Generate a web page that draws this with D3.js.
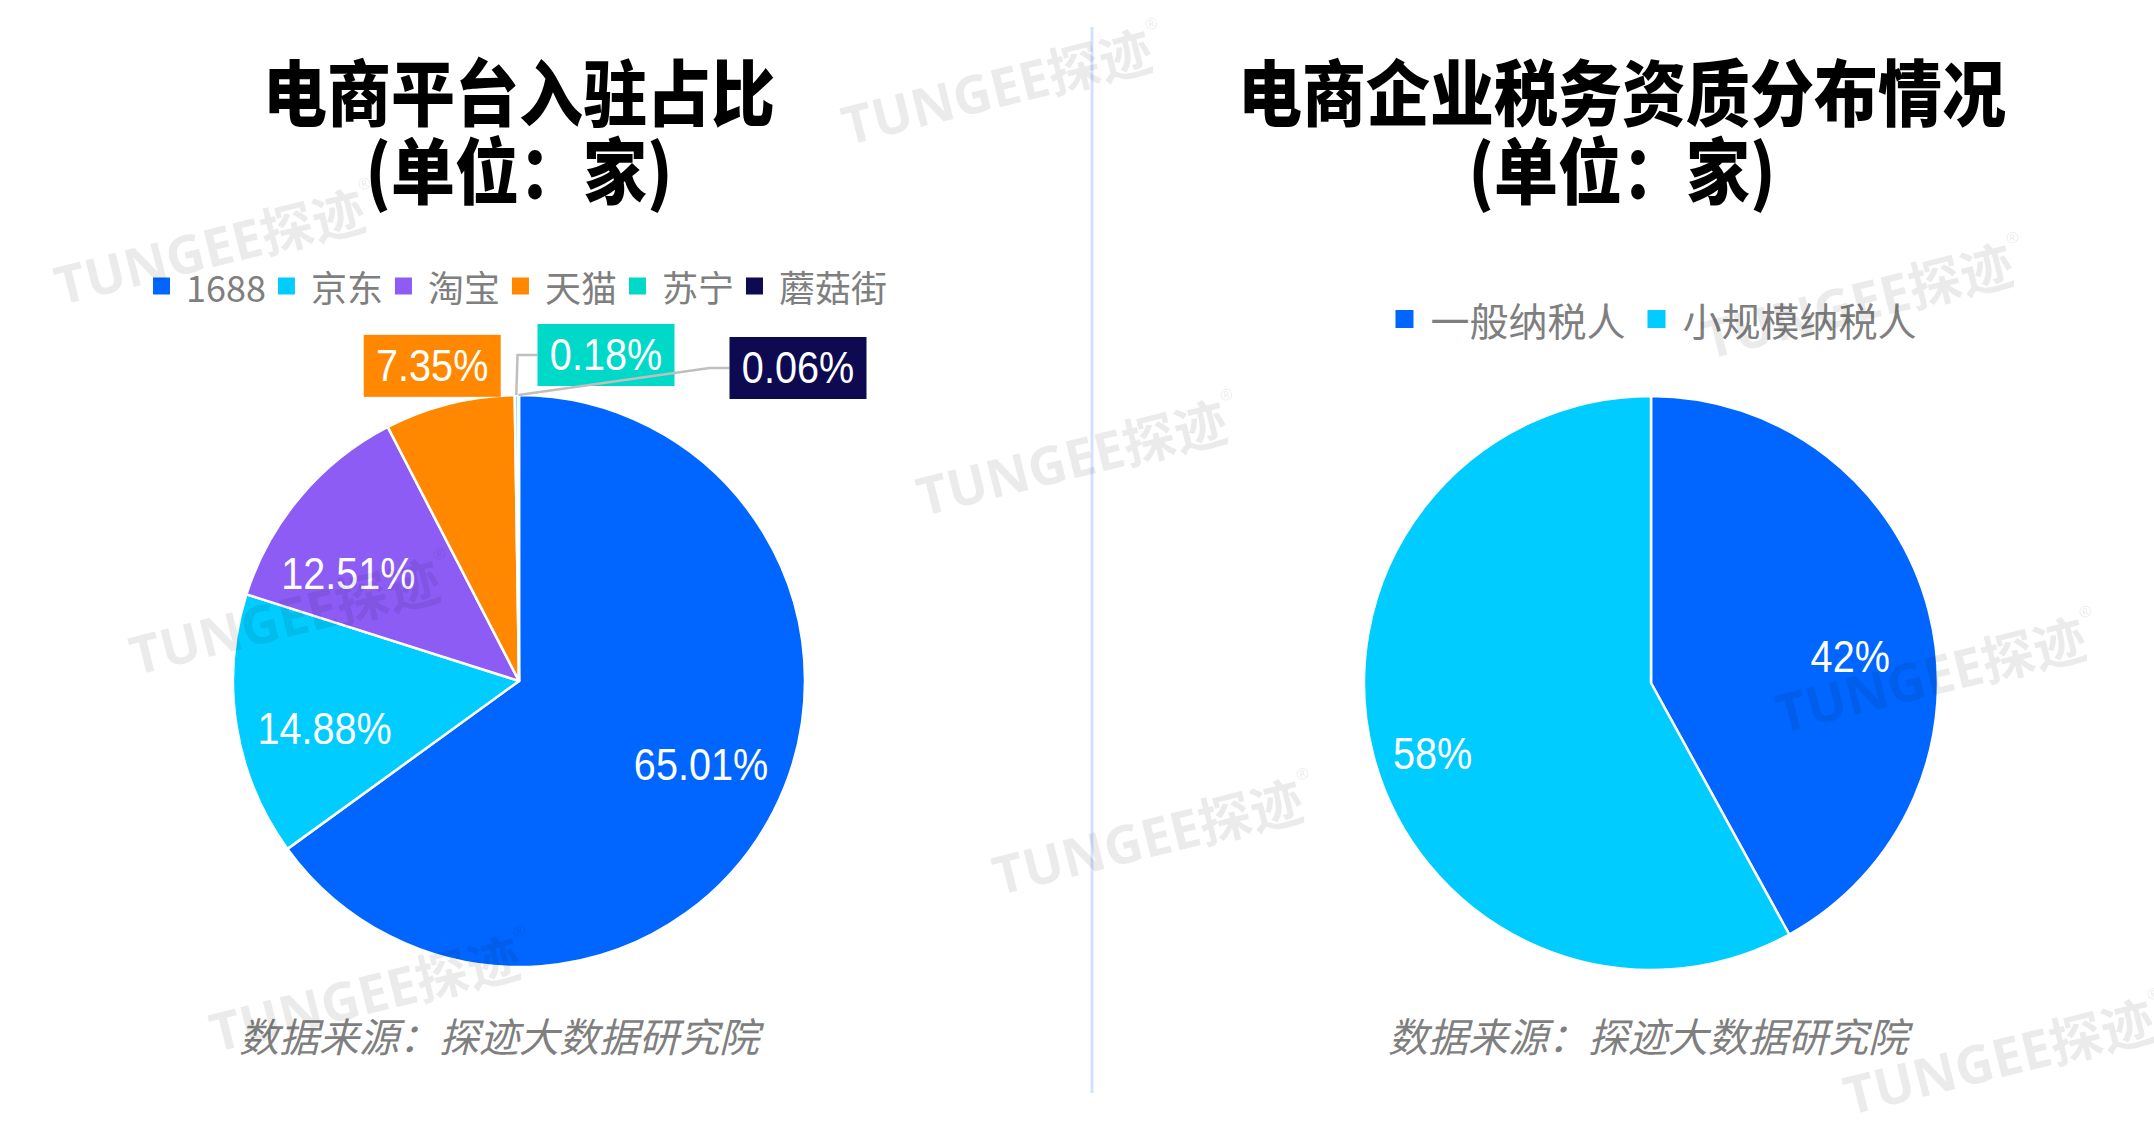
<!DOCTYPE html>
<html><head><meta charset="utf-8">
<script src="https://cdn.jsdelivr.net/npm/d3@7"></script>
<style>body{margin:0;background:#fff;} svg{display:block;}</style>
</head><body>
<svg id="chart" width="2154" height="1133"></svg>
<script>
// ---------- data ----------
const platformCategories = ["1688", "京东", "淘宝", "天猫", "苏宁", "蘑菇街"];
const platformValues = [65.01, 14.88, 12.51, 7.35, 0.18, 0.06];
const platformColors = ["#0066FF", "#00CCFF", "#8C5CF5", "#FF8800", "#00D9C8", "#0D0A52"];
const taxCategories = ["一般纳税人", "小规模纳税人"];
const taxValues = [42, 58];
const taxColors = ["#0066FF", "#00CCFF"];
const leftTitle = ["电商平台入驻占比", "(单位：家)"];
const rightTitle = ["电商企业税务资质分布情况", "(单位：家)"];
const sourceText = "数据来源：探迹大数据研究院";
const watermarkText = "TUNGEE探迹";

// ---------- layout ----------
const W = 2154, H = 1133;
const svg = d3.select("#chart");
svg.append("rect").attr("width", W).attr("height", H).attr("fill", "#fff");

const latinFont = "'Liberation Sans', Arial, 'Noto Sans CJK SC', sans-serif";
const cjkFont = "'Noto Sans CJK SC', 'Liberation Sans', sans-serif";

// divider
svg.append("line").attr("x1", 1092).attr("x2", 1092).attr("y1", 27).attr("y2", 1093)
  .attr("stroke", "#D5E1FB").attr("stroke-width", 3);

function drawTitle(lines, cx) {
  const sy = 1.12;
  const ys = [89, 167];
  const t = svg.append("g").attr("transform", `translate(${cx},0) scale(1,${sy})`)
    .append("text").attr("text-anchor", "middle")
    .attr("font-family", cjkFont).attr("font-weight", 900)
    .attr("font-size", 64).attr("fill", "#000");
  lines.forEach((s, i) => {
    t.append("tspan").attr("x", 0).attr("y", ys[i] / sy)
      .attr("dominant-baseline", "central").text(s);
  });
}

function drawLegend(cats, colors, cx, cy, opt) {
  const g = svg.append("g");
  let x = 0;
  cats.forEach((c, i) => {
    g.append("rect").attr("x", x).attr("y", cy - opt.sq / 2).attr("width", opt.sq).attr("height", opt.sq)
      .attr("fill", colors[i]);
    x += opt.sq + opt.gapIn;
    const t = g.append("text").attr("x", x).attr("y", cy)
      .attr("dominant-baseline", "central")
      .attr("font-family", cjkFont).attr("font-size", opt.fs).attr("fill", "#7F7F7F").text(c);
    x += t.node().getComputedTextLength();
    if (i < cats.length - 1) x += opt.gapOut;
  });
  g.attr("transform", `translate(${cx - x / 2},0)`);
}

function numLabel(parent, x, y, txt, fs) {
  parent.append("g").attr("transform", `translate(${x},${y}) scale(0.9,1)`)
    .append("text").attr("text-anchor", "middle").attr("dominant-baseline", "central")
    .attr("font-family", latinFont).attr("font-size", fs).attr("fill", "#fff").text(txt);
}

function drawPie(cfg) {
  const g = svg.append("g").attr("transform", `translate(${cfg.cx},${cfg.cy})`);
  const pie = d3.pie().sort(null).value(d => d)(cfg.values);
  const arc = d3.arc().innerRadius(0).outerRadius(cfg.r);
  g.selectAll("path.slice").data(pie).join("path").attr("class", "slice")
    .attr("d", arc).attr("fill", (d, i) => cfg.colors[i])
    .attr("stroke", "#fff").attr("stroke-width", 2.5).attr("stroke-linejoin", "round");

  const lg = g.append("g");
  pie.forEach((d, i) => {
    const L = cfg.labels[i];
    const mid = (d.startAngle + d.endAngle) / 2;
    const la = mid + (L.da || 0) * Math.PI / 180;
    const txt = cfg.fmt(d.data);
    if (L.type === "inside") {
      numLabel(lg, Math.sin(la) * cfg.r * L.k, -Math.cos(la) * cfg.r * L.k, txt, 44);
    } else {
      let bx, by;
      if (L.k) { bx = Math.sin(la) * cfg.r * L.k; by = -Math.cos(la) * cfg.r * L.k; }
      else { bx = L.dx; by = L.dy; }
      const bw = 137, bh = 62;
      if (L.leader) {
        const sx = Math.sin(mid) * cfg.r, sy = -Math.cos(mid) * cfg.r;
        const left = bx - bw / 2;
        lg.append("polyline")
          .attr("points", `${sx},${sy} ${left - 20},${by} ${left},${by}`)
          .attr("fill", "none").attr("stroke", "#BFBFBF").attr("stroke-width", 2.5);
      }
      lg.append("rect").attr("x", bx - bw / 2).attr("y", by - bh / 2).attr("width", bw).attr("height", bh)
        .attr("fill", cfg.colors[i]);
      numLabel(lg, bx, by, txt, 44);
    }
  });
}

function drawSource(cx) {
  svg.append("text").attr("x", cx).attr("y", 1035)
    .attr("text-anchor", "middle").attr("dominant-baseline", "central")
    .attr("font-family", cjkFont).attr("font-style", "italic")
    .attr("font-size", 40).attr("fill", "#7F7F7F").text(sourceText);
}

// ---------- left chart ----------
drawTitle(leftTitle, 519);
drawLegend(platformCategories, platformColors, 520, 286, {sq: 17, gapIn: 16, gapOut: 12, fs: 36});
drawPie({
  cx: 519, cy: 681, r: 286,
  values: platformValues, colors: platformColors,
  fmt: v => v.toFixed(2) + "%",
  labels: [
    {type: "inside", k: 0.70, da: -2.4},
    {type: "inside", k: 0.70, da: -4.6},
    {type: "inside", k: 0.705, da: -8},
    {type: "box", k: 1.143, da: -1.3},
    {type: "box", dx: 87, dy: -326, leader: true},
    {type: "box", dx: 279, dy: -313, leader: true}
  ]
});
drawSource(499);

// ---------- right chart ----------
drawTitle(rightTitle, 1622);
drawLegend(taxCategories, taxColors, 1656, 319, {sq: 18, gapIn: 17, gapOut: 22, fs: 39});
drawPie({
  cx: 1651, cy: 683, r: 287,
  values: taxValues, colors: taxColors,
  fmt: v => v + "%",
  labels: [{type: "inside", k: 0.70, da: 7}, {type: "inside", k: 0.80, da: -3.6}]
});
drawSource(1648);

// ---------- watermarks ----------
const wmPositions = [[1003, 85], [216, 245], [1078, 456], [1864, 299], [291, 615],
                     [1937, 673], [1154, 835], [371, 992], [2005, 1055]];
const wm = svg.append("g").attr("pointer-events", "none");
wmPositions.forEach(p => {
  const t = wm.append("text").attr("transform", `translate(${p[0]},${p[1]}) rotate(-14)`)
    .attr("text-anchor", "middle").attr("dominant-baseline", "central")
    .attr("font-family", "'Noto Sans', 'Noto Sans CJK SC', sans-serif").attr("font-weight", 700)
    .attr("font-size", 53).attr("fill", "#000").attr("fill-opacity", 0.08);
  t.append("tspan").text(watermarkText);
  t.append("tspan").attr("dy", -24).attr("font-size", 16).text("®");
});
</script>
</body></html>
